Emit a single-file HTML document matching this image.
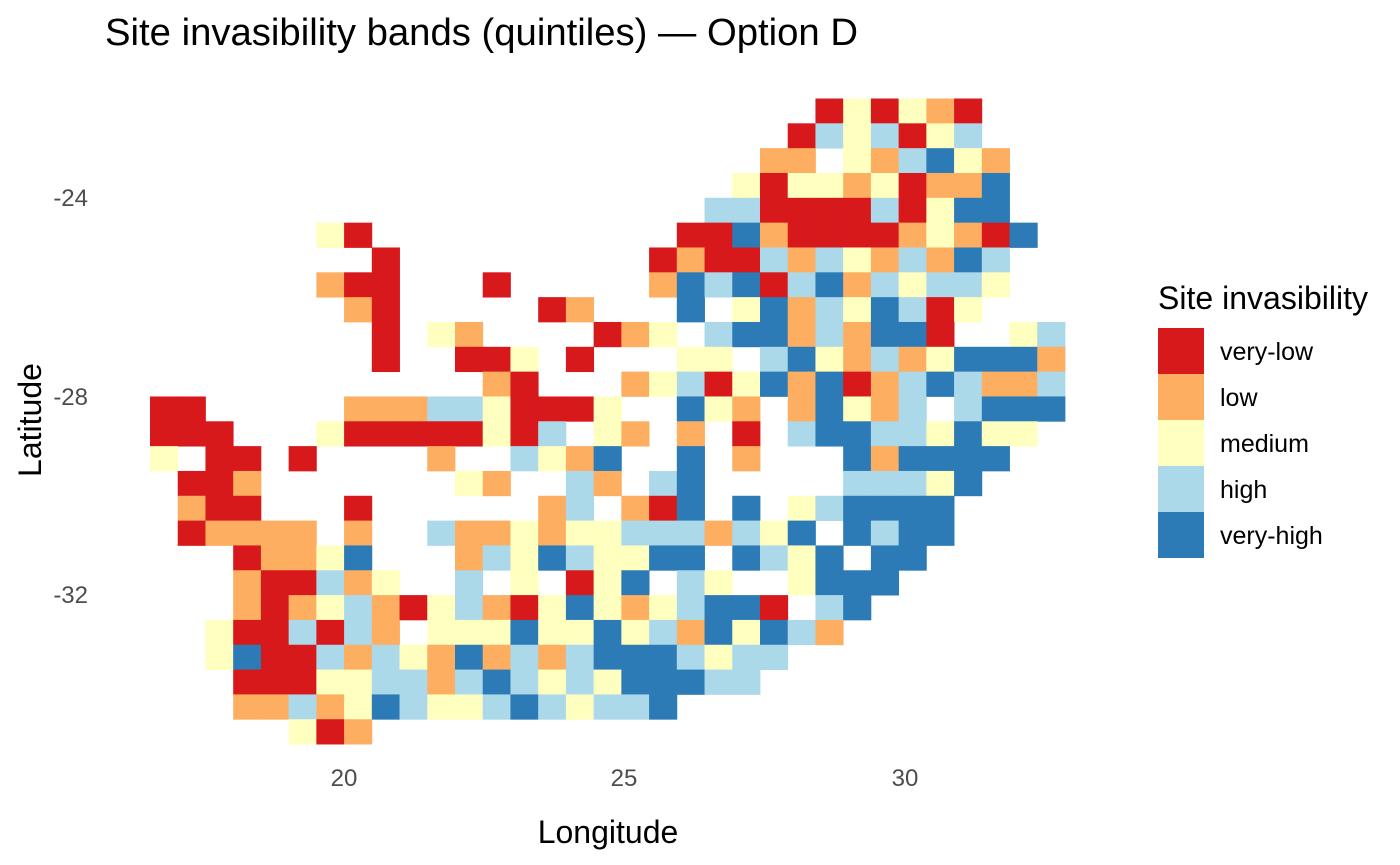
<!DOCTYPE html>
<html><head><meta charset="utf-8"><style>
html,body{margin:0;padding:0;background:#fff;}
svg{display:block;font-family:"Liberation Sans",Arial,sans-serif;}
</style></head><body>
<svg id="s" width="1400" height="865" viewBox="0 0 1400 865" xmlns="http://www.w3.org/2000/svg">
<rect width="1400" height="865" fill="#fff"/>
<g id="cells"></g>
<text x="105" y="45" font-size="38" textLength="753" lengthAdjust="spacingAndGlyphs" fill="#000">Site invasibility bands (quintiles) — Option D</text>
<g font-size="24" fill="#4d4d4d" text-anchor="end">
<text x="88" y="206">-24</text>
<text x="88" y="405">-28</text>
<text x="88" y="603">-32</text>
</g>
<g font-size="24" fill="#4d4d4d" text-anchor="middle">
<text x="344" y="786">20</text>
<text x="624" y="786">25</text>
<text x="905" y="786">30</text>
</g>
<text x="608" y="843" font-size="32" text-anchor="middle" fill="#000">Longitude</text>
<text transform="translate(41,420) rotate(-90)" font-size="32" text-anchor="middle" fill="#000">Latitude</text>
<text x="1158" y="309" font-size="32" textLength="210" lengthAdjust="spacingAndGlyphs" fill="#000">Site invasibility</text>
<g>
<rect x="1158" y="328" width="46" height="46" fill="#d7191c"/>
<rect x="1158" y="374" width="46" height="46" fill="#fdae61"/>
<rect x="1158" y="420" width="46" height="46" fill="#ffffbf"/>
<rect x="1158" y="466" width="46" height="46" fill="#abd9e9"/>
<rect x="1158" y="512" width="46" height="46" fill="#2c7bb6"/>
</g>
<g font-size="25" fill="#000">
<text x="1220" y="360">very-low</text>
<text x="1220" y="406">low</text>
<text x="1220" y="452">medium</text>
<text x="1220" y="498">high</text>
<text x="1220" y="544">very-high</text>
</g>
</svg>
<script>
var rows=[
"........................RYRYOR...",
".......................RLYLRYL...",
"......................OO.YOLBYO..",
".....................YRYYOYROOB..",
"....................LLRRRRLRYBB..",
"......YR...........RRBORRRROYORB.",
"........R.........RORRLOLYOLOBL..",
"......ORR...R.....OBLBRLBOLYLLY..",
".......OR.....RO...B.YBOLYBLRY...",
"........R.YO....ROY.LBBOLOBBR..YL",
"........R..RRY.R...YY.LBYOLOYBBBO",
"............OR...OYLRYBOBROLBLOOL",
"RR.....OOOLLYRRRY..BYO.OBYOL.LBBB",
"RRR...YRRRRRYRL.YO.O.R.LBBLLYBYY.",
"Y.RR.R....O..LYOB..B.O...BOBBBB..",
".RRO.......YO..LO.LB.....LLLYB...",
".ORR...R......OL.ORB.B.YLBBBB....",
".ROOOO.O..LOOYOYYLLLOLYB.BLBB....",
"...ROOYB...OLYBLYYBB.BLYB.BB.....",
"...ORRLOY..L.Y.RYB.LY..YBBB......",
"...OROYLORYLORYBYOYLBBR.LB.......",
"..YRRLRLO.YYYBYYBYLOBYBLO........",
"..YBRRLOLYOBOLOLBBBLYLL..........",
"...RRRYYLLOLBLYLYBBBLL...........",
"...OOLOYBLYYLBLYLLB..............",
".....YRO........................."];
var col={R:"#d7191c",O:"#fdae61",Y:"#ffffbf",L:"#abd9e9",B:"#2c7bb6"};
var g=document.getElementById("cells"),ns="http://www.w3.org/2000/svg";
var x0=150,w=27.727,y0=98.5,h=24.83;
for(var r=0;r<rows.length;r++){for(var c=0;c<rows[r].length;c++){var k=rows[r][c];if(!col[k])continue;
var e=document.createElementNS(ns,"rect");
e.setAttribute("x",(x0+c*w).toFixed(2));e.setAttribute("y",(y0+r*h).toFixed(2));
e.setAttribute("width",(w+0.4).toFixed(2));e.setAttribute("height",(h+0.4).toFixed(2));
e.setAttribute("fill",col[k]);g.appendChild(e);}}
</script>
</body></html>
